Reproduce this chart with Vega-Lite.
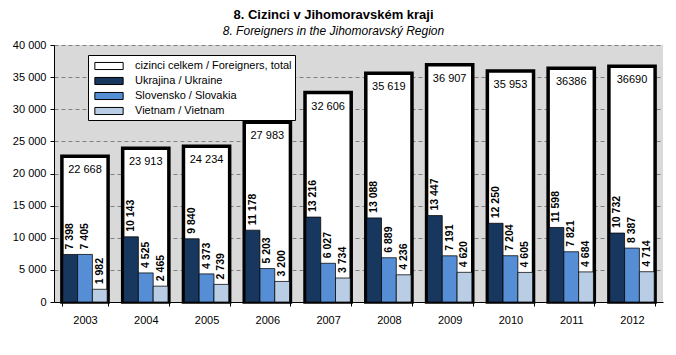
{
  "$schema": "https://vega.github.io/schema/vega-lite/v6.json",
  "width": 609,
  "height": 257,
  "autosize": "none",
  "padding": {"left": 54, "top": 45, "right": 13, "bottom": 53},
  "background": "white",
  "config": {
    "locale": {"number": {"decimal": ",", "thousands": " ", "grouping": [3], "currency": ["", " Kč"]}},
    "font": "Liberation Sans",
    "view": {"fill": "#D9D9D9", "stroke": null},
    "axis": {"labelFont": "Liberation Sans", "labelFontSize": 11, "labelColor": "black", "domainColor": "black", "tickColor": "black", "tickSize": 4, "title": null}
  },
  "title": {
    "text": "8. Cizinci v Jihomoravském  kraji",
    "subtitle": "8. Foreigners  in the Jihomoravský Region",
    "font": "Liberation Sans",
    "fontSize": 13,
    "fontWeight": "bold",
    "color": "black",
    "subtitleFont": "Liberation Sans",
    "subtitleFontSize": 12,
    "subtitleFontStyle": "italic",
    "subtitleColor": "black",
    "subtitlePadding": 4,
    "offset": 2,
    "dx": -25,
    "anchor": "middle"
  },
  "data": {
    "values": [
      {"year": "2003", "series": "cizinci celkem / Foreigners, total", "value": 22668, "label": "22 668"},
      {"year": "2004", "series": "cizinci celkem / Foreigners, total", "value": 23913, "label": "23 913"},
      {"year": "2005", "series": "cizinci celkem / Foreigners, total", "value": 24234, "label": "24 234"},
      {"year": "2006", "series": "cizinci celkem / Foreigners, total", "value": 27983, "label": "27 983"},
      {"year": "2007", "series": "cizinci celkem / Foreigners, total", "value": 32606, "label": "32 606"},
      {"year": "2008", "series": "cizinci celkem / Foreigners, total", "value": 35619, "label": "35 619"},
      {"year": "2009", "series": "cizinci celkem / Foreigners, total", "value": 36907, "label": "36 907"},
      {"year": "2010", "series": "cizinci celkem / Foreigners, total", "value": 35953, "label": "35 953"},
      {"year": "2011", "series": "cizinci celkem / Foreigners, total", "value": 36386, "label": "36386"},
      {"year": "2012", "series": "cizinci celkem / Foreigners, total", "value": 36690, "label": "36690"},
      {"year": "2003", "series": "Ukrajina / Ukraine", "value": 7398},
      {"year": "2004", "series": "Ukrajina / Ukraine", "value": 10143},
      {"year": "2005", "series": "Ukrajina / Ukraine", "value": 9840},
      {"year": "2006", "series": "Ukrajina / Ukraine", "value": 11178},
      {"year": "2007", "series": "Ukrajina / Ukraine", "value": 13216},
      {"year": "2008", "series": "Ukrajina / Ukraine", "value": 13088},
      {"year": "2009", "series": "Ukrajina / Ukraine", "value": 13447},
      {"year": "2010", "series": "Ukrajina / Ukraine", "value": 12250},
      {"year": "2011", "series": "Ukrajina / Ukraine", "value": 11598},
      {"year": "2012", "series": "Ukrajina / Ukraine", "value": 10732},
      {"year": "2003", "series": "Slovensko / Slovakia", "value": 7405},
      {"year": "2004", "series": "Slovensko / Slovakia", "value": 4525},
      {"year": "2005", "series": "Slovensko / Slovakia", "value": 4373},
      {"year": "2006", "series": "Slovensko / Slovakia", "value": 5203},
      {"year": "2007", "series": "Slovensko / Slovakia", "value": 6027},
      {"year": "2008", "series": "Slovensko / Slovakia", "value": 6889},
      {"year": "2009", "series": "Slovensko / Slovakia", "value": 7191},
      {"year": "2010", "series": "Slovensko / Slovakia", "value": 7204},
      {"year": "2011", "series": "Slovensko / Slovakia", "value": 7821},
      {"year": "2012", "series": "Slovensko / Slovakia", "value": 8387},
      {"year": "2003", "series": "Vietnam / Vietnam", "value": 1982},
      {"year": "2004", "series": "Vietnam / Vietnam", "value": 2465},
      {"year": "2005", "series": "Vietnam / Vietnam", "value": 2739},
      {"year": "2006", "series": "Vietnam / Vietnam", "value": 3200},
      {"year": "2007", "series": "Vietnam / Vietnam", "value": 3734},
      {"year": "2008", "series": "Vietnam / Vietnam", "value": 4236},
      {"year": "2009", "series": "Vietnam / Vietnam", "value": 4620},
      {"year": "2010", "series": "Vietnam / Vietnam", "value": 4605},
      {"year": "2011", "series": "Vietnam / Vietnam", "value": 4684},
      {"year": "2012", "series": "Vietnam / Vietnam", "value": 4714}
    ]
  },
  "encoding": {
    "x": {
      "field": "year",
      "type": "nominal",
      "scale": {"paddingInner": 0.24, "paddingOuter": 0.13},
      "axis": {"labelAngle": 0, "tickBand": "extent", "labelPadding": 8, "grid": false, "domainWidth": 1}
    },
    "y": {
      "field": "value",
      "type": "quantitative",
      "scale": {"domain": [0, 40000]},
      "axis": {"values": [0, 5000, 10000, 15000, 20000, 25000, 30000, 35000, 40000], "format": ",d", "grid": true, "gridColor": "#808080", "gridDash": [4, 3], "gridWidth": 1, "labelPadding": 4}
    }
  },
  "layer": [
    {
      "transform": [{"filter": "datum.series === 'cizinci celkem / Foreigners, total'"}],
      "mark": {"type": "bar", "stroke": "black", "strokeWidth": 3.5},
      "encoding": {
        "color": {
          "field": "series",
          "type": "nominal",
          "scale": {
            "domain": ["cizinci celkem / Foreigners, total", "Ukrajina / Ukraine", "Slovensko / Slovakia", "Vietnam / Vietnam"],
            "range": ["white", "#17375E", "#558ED5", "#B9CDE5"]
          },
          "legend": {
            "title": null,
            "orient": "none",
            "legendX": 34,
            "legendY": 10,
            "fillColor": "white",
            "strokeColor": "black",
            "padding": 3,
            "labelFont": "Liberation Sans",
            "labelFontSize": 11,
            "labelColor": "black",
            "symbolType": "M-2,-0.5H2V0.5H-2Z",
            "symbolSize": 200,
            "symbolStrokeColor": "black",
            "symbolStrokeWidth": 1,
            "symbolOffset": 10,
            "labelOffset": 18,
            "rowPadding": 1,
            "labelLimit": 300
          }
        }
      }
    },
    {
      "transform": [{"filter": "datum.series !== 'cizinci celkem / Foreigners, total'"}],
      "mark": {"type": "bar", "stroke": "black", "strokeWidth": 0.75},
      "encoding": {
        "xOffset": {
          "field": "series",
          "type": "nominal",
          "sort": ["Ukrajina / Ukraine", "Slovensko / Slovakia", "Vietnam / Vietnam"],
          "scale": {"paddingOuter": 0.06, "paddingInner": 0}
        },
        "color": {"field": "series", "type": "nominal"}
      }
    },
    {
      "transform": [{"filter": "datum.series === 'cizinci celkem / Foreigners, total'"}],
      "mark": {"type": "text", "baseline": "top", "dy": 8, "fontSize": 11, "font": "Liberation Sans", "color": "black"},
      "encoding": {"text": {"field": "label"}}
    },
    {
      "transform": [{"filter": "datum.series !== 'cizinci celkem / Foreigners, total'"}],
      "mark": {"type": "text", "angle": 270, "align": "left", "baseline": "middle", "dx": 5, "fontSize": 10.5, "fontWeight": "bold", "font": "Liberation Sans", "color": "black"},
      "encoding": {
        "xOffset": {
          "field": "series",
          "type": "nominal",
          "sort": ["Ukrajina / Ukraine", "Slovensko / Slovakia", "Vietnam / Vietnam"]
        },
        "text": {"field": "value", "type": "quantitative", "format": ",d"}
      }
    }
  ]
}
